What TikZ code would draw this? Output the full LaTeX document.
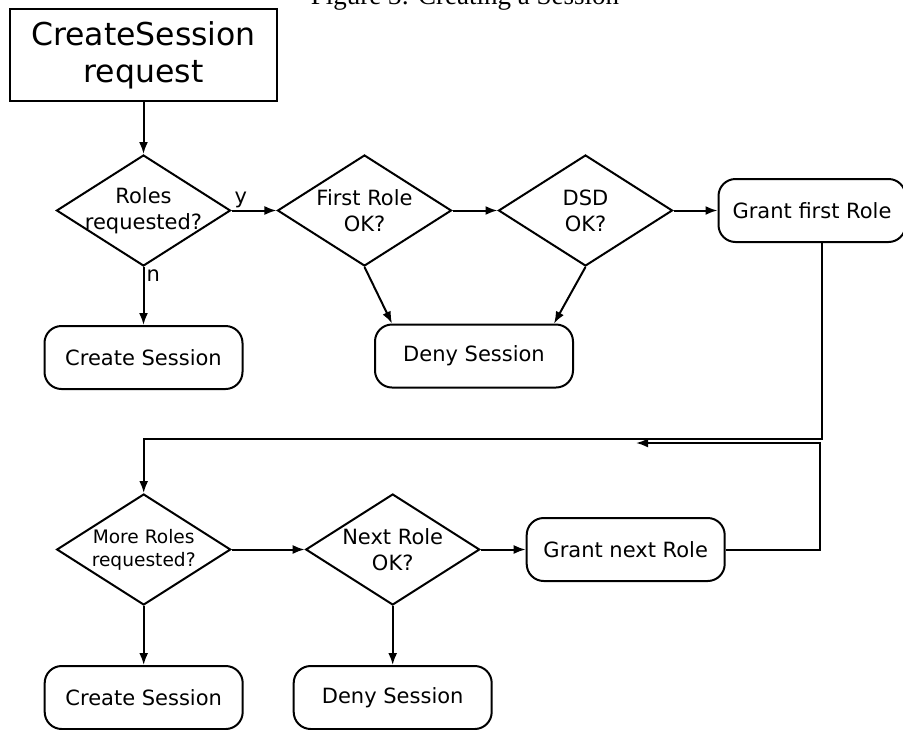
\documentclass[tikz,border=0pt]{standalone}
\usepackage{fontspec}
\setmainfont{DejaVu Sans}
\newfontfamily\capfont{Liberation Serif}
\usetikzlibrary{shapes.geometric, arrows.meta, positioning, calc}

\begin{document}
\begin{tikzpicture}[x=1pt, y=-1pt,
    decision/.style={diamond, draw, line width=2pt, aspect=1.57, minimum width=174pt, minimum height=111pt, inner sep=-20pt, align=center, font=\fontsize{21}{26}\selectfont},
    outcome/.style={rectangle, draw, line width=2pt, rounded corners=17pt, minimum width=198pt, minimum height=63pt, align=center, font=\fontsize{21}{26}\selectfont},
    arrow/.style={-{Latex[length=12pt,width=9pt]}, line width=2pt}
]
\useasboundingbox (0,0) rectangle (903,729);

\node (caption) [font=\capfont\fontsize{27}{30}\selectfont, anchor=base] at (465,4.5) {Figure 3: Creating a Session};

\node (request) [draw, line width=2pt, minimum width=267pt, minimum height=92pt, align=center, font=\fontsize{31.5}{37}\selectfont] at (143.5,55) {CreateSession\\request};
\node (roles) [decision, below=52pt of request] {Roles\\requested?};
\node (first) [decision, right=45pt of roles] {First Role\\OK?};
\node (dsd) [decision, right=45pt of first] {DSD\\OK?};
\node (grantfirst) [outcome, minimum width=187pt, right=44pt of dsd] {Grant first Role};
\node (create1) [outcome, below=58pt of roles] {Create Session};
\node (deny1) [outcome] at (474,356) {Deny Session};

\node (more) [decision, font=\fontsize{18.6}{23}\selectfont] at (143.7,549.5) {More Roles\\requested?};
\node (next) [decision, right=73pt of more] {Next Role\\OK?};
\node (grantnext) [outcome, right=45pt of next] {Grant next Role};
\node (create2) [outcome, below=59pt of more] {Create Session};
\node (deny2) [outcome, below=59pt of next] {Deny Session};

\coordinate (back) at (636,443);

\draw [arrow] (request) -- (roles);
\draw [arrow] (roles) -- node[pos=0, above right, inner sep=2pt, font=\fontsize{21}{26}\selectfont] {y} (first);
\draw [arrow] (roles) -- node[pos=0, below right, inner sep=2pt, font=\fontsize{21}{26}\selectfont] {n} (create1);
\draw [arrow] (first.south) -- ($(deny1.north west)!0.09!(deny1.north east)$);
\draw [arrow] (dsd.south) -- ($(deny1.north west)!0.9!(deny1.north east)$);
\draw [arrow] (first) -- (dsd);
\draw [arrow] (dsd) -- (grantfirst);
\draw [arrow] ([xshift=9.5pt]grantfirst.south) -- ++(0,196) -| (more.north);
\draw [arrow] (grantnext.east) -- ++(94,0) |- (back);
\draw [arrow] (more) -- (next);
\draw [arrow] (next) -- (grantnext);
\draw [arrow] (more) -- (create2);
\draw [arrow] (next) -- (deny2);

\end{tikzpicture}
\end{document}
